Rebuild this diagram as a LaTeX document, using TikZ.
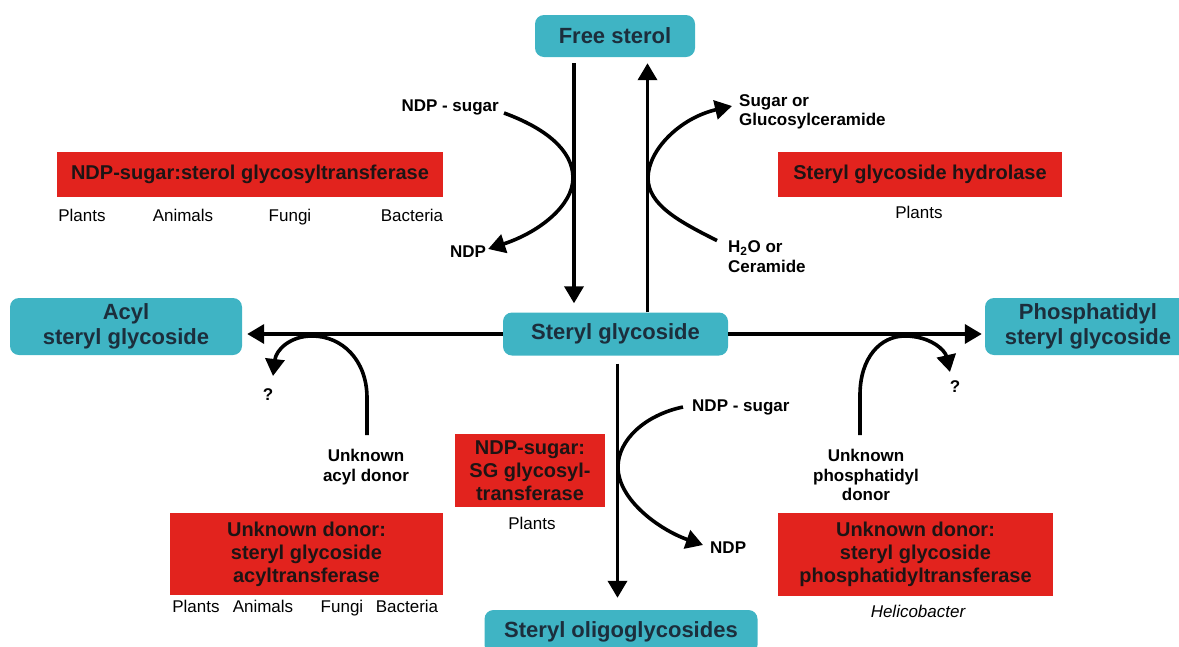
\documentclass[tikz,border=0pt]{standalone}
\usepackage{fontspec}
\setmainfont{Liberation Sans}
\usepackage{tikz}
\usetikzlibrary{arrows.meta,calc,positioning}
\definecolor{molfill}{HTML}{3FB4C4}
\definecolor{molink}{HTML}{1C2E3C}
\definecolor{enzfill}{HTML}{E2231E}
\definecolor{enzink}{HTML}{1E1414}
\begin{document}
\begin{tikzpicture}[x=1pt,y=-1pt]
    \tikzstyle{mol}=[fill=molfill, rounded corners=9pt, align=center, text=molink, inner sep=0pt, font=\fontsize{22}{25}\selectfont\bfseries]
    \tikzstyle{enz}=[fill=enzfill, align=center, text=enzink, inner sep=0pt, font=\fontsize{20}{23}\selectfont\bfseries]
    \tikzstyle{lbl}=[inner sep=0pt, font=\fontsize{17}{19.5}\selectfont\bfseries]
    \tikzstyle{org}=[inner sep=0pt, text height=12.5pt, text depth=3.5pt, font=\fontsize{17}{20}\selectfont]
    \tikzstyle{rx}=[line width=3.6pt, -{Triangle[length=17pt,width=19pt]}]

    \useasboundingbox (0,0) rectangle (1179,646);
    \clip (0,0) rectangle (1179,646);

    \node[mol, minimum width=160pt, minimum height=42pt] (fs)  at (615,36)    {Free sterol};
    \node[mol, minimum width=225pt, minimum height=43pt] (sg)  at (615.5,334) {Steryl glycoside};
    \node[mol, minimum width=232pt, minimum height=57pt] (asg) at (126,326.5) {Acyl\\steryl glycoside};
    \node[mol, minimum width=206pt, minimum height=57pt] (psg) at (1088,326.5) {Phosphatidyl\\steryl glycoside};
    \node[mol, minimum width=273pt, minimum height=44pt] (sog) at (621,632)   {Steryl oligoglycosides};

    \node[enz, minimum width=386pt, minimum height=45pt] (gt)  at (250,174.5) {NDP-sugar:sterol glycosyltransferase};
    \node[enz, minimum width=284pt, minimum height=45pt] (hy)  at (920,174.5) {Steryl glycoside hydrolase};
    \node[enz, minimum width=150pt, minimum height=73pt] (sgt) at (530,470.5) {NDP-sugar:\\SG glycosyl-\\transferase};
    \node[enz, minimum width=273pt, minimum height=82pt] (at)  at (306.5,554) {Unknown donor:\\steryl glycoside\\acyltransferase};
    \node[enz, minimum width=275pt, minimum height=83pt] (pt)  at (915.5,554.5) {Unknown donor:\\steryl glycoside\\phosphatidyltransferase};

    \foreach \x/\t in {82/Plants,183/Animals,290/Fungi,412/Bacteria}
        \node[org] (gt-\t) at (\x,217) {\t};
    \foreach \x/\t in {196/Plants,263/Animals,342/Fungi,407/Bacteria}
        \node[org] (at-\t) at (\x,608) {\t};
    \node[org] (hy-pl)  at (919,214) {Plants};
    \node[org] (sgt-pl) at (532,525) {Plants};
    \node[org, font=\fontsize{17}{20}\selectfont\itshape] (pt-he) at (918,613) {Helicobacter};

    \node[lbl, anchor=east] (ndps1) at (499,107) {NDP - sugar};
    \node[lbl] (ndp1) at (468,252) {NDP};
    \node[lbl, anchor=west, align=left] (sug) at (739,112) {Sugar or\\Glucosylceramide};
    \node[lbl, anchor=west, align=left] (h2o) at (728,256.5) {H\textsubscript{2}O or\\Ceramide};
    \node[lbl, anchor=west] (ndps2) at (692,407) {NDP - sugar};
    \node[lbl, anchor=west] (ndp2) at (710,548) {NDP};
    \node[lbl, align=center] (acd) at (366,467) {Unknown\\acyl donor};
    \node[lbl, align=center] (pd)  at (866,475) {Unknown\\phosphatidyl\\donor};
    \node[lbl] (q1) at (268,395) {?};
    \node[lbl] (q2) at (955,387) {?};

    \coordinate (acs) at (367,435);
    \coordinate (act) at (273,376);
    \coordinate (pcs) at (860,435);
    \coordinate (pct) at (950,372);

    \draw[rx, shorten <=6pt, shorten >=9pt] ([xshift=-41pt]fs.south) -- ([xshift=-41.5pt]sg.north);
    \draw[rx, shorten >=6pt] ([xshift=32pt]sg.north) -- ([xshift=32.5pt]fs.south);
    \draw[rx, shorten <=8pt, shorten >=12pt] ([xshift=2pt]sg.south) -- ([xshift=2pt]sg.south |- sog.north);
    \draw[rx, shorten >=5pt] (sg.west) -- (sg.west -| asg.east);
    \draw[rx, shorten >=3pt] (sg.east) -- (sg.east -| psg.west);

    \draw[rx] ([shift={(5pt,-6pt)}]ndps1.east) .. controls (545,128) and (573,150) .. (573,178)
        .. controls (573,205) and (540,232) .. ([xshift=2pt,yshift=3pt]ndp1.east);
    \draw[rx] ([shift={(-11pt,0pt)}]h2o.north west) .. controls (680,222) and (648,205) .. (648,178)
        .. controls (648,150) and (680,118) .. ([shift={(-7pt,6pt)}]sug.west);
    \draw[rx] ([xshift=-9pt]ndps2.west) .. controls (645,415) and (618,440) .. (618,467)
        .. controls (618,500) and (660,530) .. ([xshift=-7pt,yshift=3pt]ndp2.west);
    \draw[rx] (acs) -- (367,398) .. controls (367,360) and (342,336) .. (312,336)
        .. controls (290,336) and (276,350) .. (act);
    \draw[rx] (pcs) -- (860,395) .. controls (860,358) and (880,336) .. (905,336)
        .. controls (930,336) and (945,350) .. (pct);
\end{tikzpicture}
\end{document}
